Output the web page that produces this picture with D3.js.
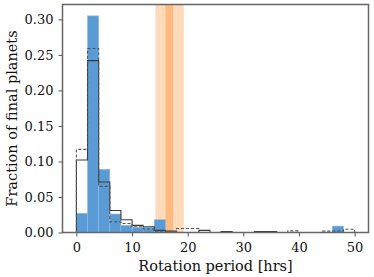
<!DOCTYPE html>
<html><head><meta charset="utf-8">
<script src="https://cdn.jsdelivr.net/npm/d3@7"></script>
<style>body{margin:0;background:#fff}svg{display:block}text{font-family:"DejaVu Serif",serif;fill:#111}</style>
</head><body><svg id="c" width="374" height="277"></svg>
<script>
const binEdges = [0,2,4,6,8,10,12,14,16,18,20,22,24,26,28,30,32,34,36,38,40,42,44,46,48,50];
const blueVals = [0.027,0.305,0.089,0.026,0.010,0.007,0.007,0.018,0,0,0,0,0,0,0,0,0,0,0,0,0,0,0,0.009,0];
const solidVals = [0.102,0.242,0.071,0.031,0.018,0.010,0.008,0.003,0.002,0,0,0.003,0,0.0015,0,0,0.0014,0.0014,0,0,0,0,0,0,0];
const dashedVals = [0.117,0.259,0.065,0.015,0.0127,0.008,0.005,0.002,0.001,0.0056,0.0056,0,0,0,0,0,0,0,0,0.0023,0,0,0.002,0.002,0.0046];
const bandOuter = [14.2, 19.3];
const bandInner = [16.0, 17.4];
const xTicks = [0,10,20,30,40,50];
const yTicks = [0,0.05,0.10,0.15,0.20,0.25,0.30];
const xDomain = [-2.5, 52.5];
const yDomain = [0, 0.321];

const svg = d3.select("#c");
const L=62.5,R=368.5,T=4.5,B=232.5;
const x = d3.scaleLinear().domain(xDomain).range([L,R]);
const y = d3.scaleLinear().domain(yDomain).range([B,T]);

// bands
svg.append("rect").attr("x",x(bandOuter[0])).attr("y",T).attr("width",x(bandOuter[1])-x(bandOuter[0])).attr("height",B-T)
  .attr("fill","#ff7f0e").attr("fill-opacity",0.28);
svg.append("rect").attr("x",x(bandInner[0])).attr("y",T).attr("width",x(bandInner[1])-x(bandInner[0])).attr("height",B-T)
  .attr("fill","#ff7f0e").attr("fill-opacity",0.35);

// blue bars
const bins = blueVals.map((v,i)=>({x0:binEdges[i],x1:binEdges[i+1],v}));
svg.append("g").selectAll("rect").data(bins.filter(d=>d.v>0)).join("rect")
  .attr("x",d=>x(d.x0)).attr("width",d=>x(d.x1)-x(d.x0))
  .attr("y",d=>y(d.v)).attr("height",d=>y(0)-y(d.v))
  .attr("fill","#5b9bd5").attr("stroke","#8dbbe3").attr("stroke-width",0.6);

function stepPath(vals){
  const pts=[[binEdges[0],0]];
  vals.forEach((v,i)=>{pts.push([binEdges[i],v]);pts.push([binEdges[i+1],v]);});
  pts.push([binEdges[binEdges.length-1],0]);
  return d3.line().x(d=>x(d[0])).y(d=>y(d[1]))(pts);
}
svg.append("path").attr("d",stepPath(solidVals)).attr("fill","none").attr("stroke","#3a3a3a").attr("stroke-width",1.1);
svg.append("path").attr("d",stepPath(dashedVals)).attr("fill","none").attr("stroke","#555").attr("stroke-width",1.1).attr("stroke-dasharray","3,2");

// axes
const xa = svg.append("g").attr("transform",`translate(0,${B})`).call(d3.axisBottom(x).tickValues(xTicks).tickFormat(d3.format("d")).tickSize(4).tickSizeOuter(0));
const ya = svg.append("g").attr("transform",`translate(${L},0)`).call(d3.axisLeft(y).tickValues(yTicks).tickFormat(d3.format(".2f")).tickSize(4).tickSizeOuter(0));
[xa,ya].forEach(g=>{g.select(".domain").remove();g.selectAll("line").attr("stroke","#555").attr("stroke-width",1);g.selectAll("text").attr("font-family","DejaVu Serif").attr("font-size",13).attr("fill","#111");});
xa.selectAll("text").attr("dy","0.95em");
ya.selectAll("text").attr("dx","-2");

svg.append("rect").attr("x",L).attr("y",T).attr("width",R-L).attr("height",B-T).attr("fill","none").attr("stroke","#666").attr("stroke-width",1.5);

svg.append("text").attr("x",(L+R)/2).attr("y",271).attr("text-anchor","middle").attr("font-size",14.5).text("Rotation period [hrs]");
svg.append("text").attr("transform",`translate(17,${(T+B)/2}) rotate(-90)`).attr("text-anchor","middle").attr("font-size",14.5).text("Fraction of final planets");
</script></body></html>
